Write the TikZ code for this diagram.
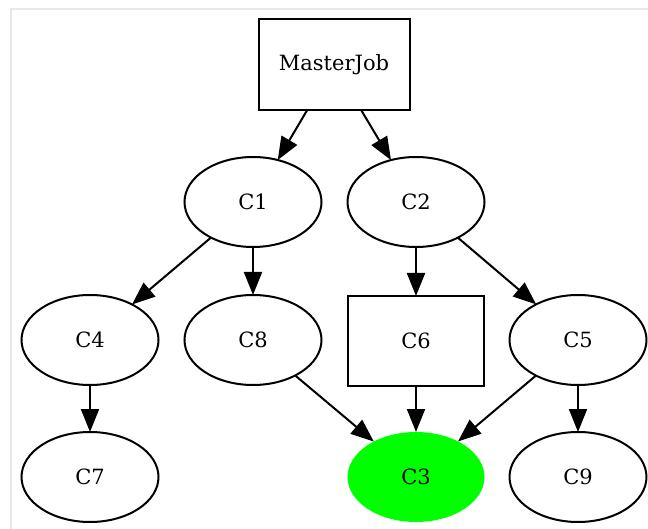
\documentclass[tikz,border=0pt]{standalone}
\usepackage{fontspec}
\setmainfont{DejaVu Serif}
\usetikzlibrary{arrows.meta,shapes.geometric}
\begin{document}
\begin{tikzpicture}[x=1pt,y=-1pt,
  base/.style={draw=black, line width=2pt, font=\fontsize{21}{25}\selectfont, inner sep=0pt, outer sep=0pt},
  ell/.style={base, ellipse, minimum width=137pt, minimum height=90pt},
  box/.style={base, rectangle, minimum width=136pt, minimum height=90pt},
  hit/.style={ell, draw=none, fill={rgb,255:red,0;green,255;blue,0}},
  edge/.style={line width=2pt, -{Triangle[length=23pt,width=18pt]}}
]
\useasboundingbox (0,0) rectangle (648,529);
\fill[white] (0,0) rectangle (648,529);
\draw[line width=2pt, color={rgb,255:red,232;green,232;blue,232}] (11,529) -- (11,9) -- (648,9);

\node[box, minimum width=151pt, minimum height=91pt] (mj) at (334,64.5) {MasterJob};
\node[ell] (c1) at (253,202) {C1};
\node[ell] (c2) at (416,202) {C2};
\node[ell] (c4) at (90,340) {C4};
\node[ell] (c8) at (253,340) {C8};
\node[box] (c6) at (416,341) {C6};
\node[ell] (c5) at (578,340) {C5};
\node[ell] (c7) at (90,477) {C7};
\node[hit] (c3) at (416,477) {C3};
\node[ell] (c9) at (578,477) {C9};

\draw[edge] (mj) -- (c1);
\draw[edge] (mj) -- (c2);
\draw[edge] (c1) -- (c4);
\draw[edge] (c1) -- (c8);
\draw[edge] (c2) -- (c6);
\draw[edge] (c2) -- (c5);
\draw[edge] (c4) -- (c7);
\draw[edge] (c8) -- (c3);
\draw[edge] (c6) -- (c3);
\draw[edge] (c5) -- (c3);
\draw[edge] (c5) -- (c9);
\end{tikzpicture}
\end{document}
